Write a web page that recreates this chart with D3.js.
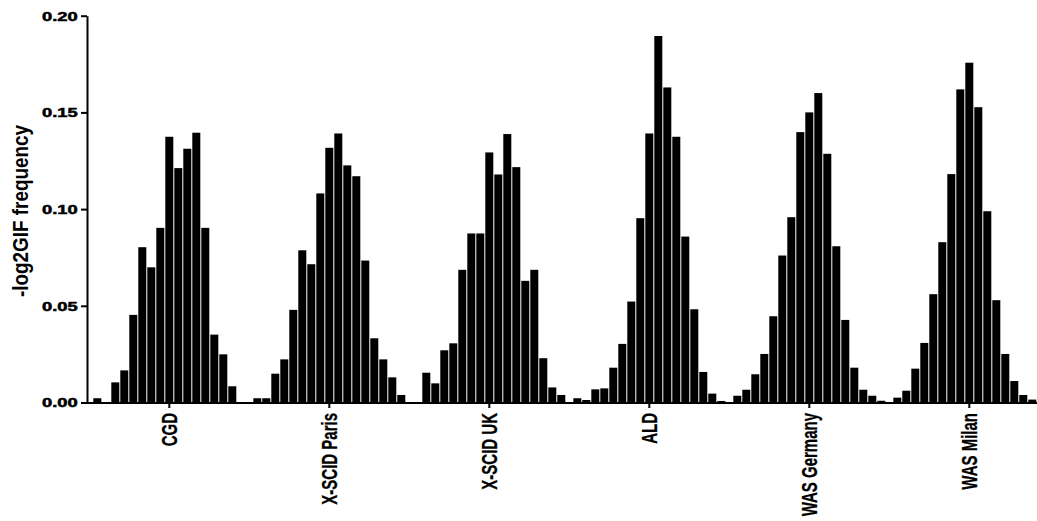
<!DOCTYPE html>
<html>
<head>
<meta charset="utf-8">
<script src="https://cdn.jsdelivr.net/npm/d3@7"></script>
<style>
  body { margin: 0; background: #fff; }
  svg { display: block; font-family: "Liberation Sans", Arial, sans-serif; }
</style>
</head>
<body>
<div id="chart"></div>
<script>
// data, one array per sample
const categories = ['CGD', 'X-SCID Paris', 'X-SCID UK', 'ALD', 'WAS Germany', 'WAS Milan'];
const cgd        = [0.0022, 0, 0.0104, 0.0166, 0.0453, 0.0803, 0.0699, 0.0903, 0.1374, 0.1212, 0.1312, 0.1395, 0.0903, 0.0351, 0.0249, 0.0084, 0];
const xscidParis = [0.0022, 0.0022, 0.0149, 0.0223, 0.0479, 0.0787, 0.0715, 0.1081, 0.1317, 0.1391, 0.1226, 0.1170, 0.0734, 0.0332, 0.0223, 0.0130, 0.0039];
const xscidUk    = [0, 0.0154, 0.0099, 0.0270, 0.0306, 0.0686, 0.0874, 0.0874, 0.1293, 0.1179, 0.1388, 0.1217, 0.0629, 0.0686, 0.0229, 0.0078, 0.0039];
const ald        = [0.0022, 0.0013, 0.0068, 0.0073, 0.0180, 0.0303, 0.0522, 0.0953, 0.1391, 0.1895, 0.1629, 0.1374, 0.0858, 0.0482, 0.0158, 0.0046, 0.0008];
const wasGermany = [0.0035, 0.0066, 0.0146, 0.0251, 0.0446, 0.0760, 0.0958, 0.1398, 0.1500, 0.1600, 0.1286, 0.0808, 0.0427, 0.0180, 0.0066, 0.0035, 0.0009];
const wasMilan   = [0.0025, 0.0061, 0.0175, 0.0308, 0.0560, 0.0829, 0.1181, 0.1619, 0.1757, 0.1527, 0.0989, 0.0529, 0.0251, 0.0111, 0.0039, 0.0015, 0.0008];
const yTicks = [0, 0.05, 0.10, 0.15, 0.20];
const yLabel = '-log2GIF frequency';

const series = [cgd, xscidParis, xscidUk, ald, wasGermany, wasMilan];

const width = 1037, height = 521;

const svg = d3.select('#chart').append('svg')
    .attr('width', width)
    .attr('height', height);

const y = d3.scaleLinear().domain([0, 0.2]).range([402.5, 15.7]);

// one band per sample, 17 bins inside each band
const x0 = d3.scaleBand()
    .domain(categories)
    .range([92.8, 1045.8])
    .paddingInner(7 / 160)
    .paddingOuter(0);

const bins = d3.range(cgd.length);
const x1 = d3.scaleBand()
    .domain(bins)
    .range([0, x0.bandwidth()])
    .paddingInner(1 / 9)
    .paddingOuter(1 / 18);

// bars
svg.append('g')
    .selectAll('g')
    .data(categories)
    .join('g')
    .attr('transform', d => `translate(${x0(d)},0)`)
    .selectAll('rect')
    .data((d, i) => series[i].map((v, k) => ({ k, v })).filter(b => b.v > 0))
    .join('rect')
    .attr('x', d => x1(d.k))
    .attr('width', x1.bandwidth())
    .attr('y', d => y(d.v))
    .attr('height', d => y(0) - y(d.v))
    .attr('fill', '#000');

// y axis
const yAxis = svg.append('g')
    .attr('transform', 'translate(87,0)')
    .call(d3.axisLeft(y).tickValues(yTicks).tickFormat(d3.format('.2f')).tickSize(6).tickSizeOuter(0));

yAxis.select('.domain').attr('stroke-width', 2);
yAxis.selectAll('.tick line').attr('stroke-width', 2);
yAxis.selectAll('.tick text')
    .attr('x', 0)
    .attr('dy', '0.36em')
    .attr('transform', 'translate(-9.3,0) scale(1.48,1)')
    .attr('text-anchor', 'end')
    .attr('font-family', '"Liberation Sans", Arial, sans-serif')
    .attr('font-size', 12.4)
    .attr('font-weight', 'bold')
    .attr('fill', '#000')
    .attr('stroke', '#000')
    .attr('stroke-width', 0.5);

// x axis, ticks sit under the middle bin of each sample
const tickPos = d3.scaleOrdinal()
    .domain(categories)
    .range(categories.map(c => x0(c) + x1(8) + x1.bandwidth() / 2 - 0.5));

const xAxis = svg.append('g')
    .attr('transform', `translate(0,${y(0)})`)
    .call(d3.axisBottom(tickPos).tickSize(5.5).tickSizeOuter(0));

xAxis.select('.domain')
    .attr('d', `M86,0.5H${x0.range()[1]}`)
    .attr('stroke-width', 2);
xAxis.selectAll('.tick line').attr('stroke-width', 2);
xAxis.selectAll('.tick text')
    .attr('x', 0)
    .attr('y', 0)
    .attr('dy', '0.36em')
    .attr('transform', 'translate(0,10.5) scale(1.48,1) rotate(-90)')
    .attr('text-anchor', 'end')
    .attr('font-family', '"Liberation Sans", Arial, sans-serif')
    .attr('font-size', 15)
    .attr('font-weight', 'bold')
    .attr('fill', '#000')
    .attr('stroke', '#000')
    .attr('stroke-width', 0.2);

// y title
svg.append('text')
    .attr('transform', 'translate(22.5,211) scale(1.2,1) rotate(-90)')
    .attr('text-anchor', 'middle')
    .attr('dy', '0.26em')
    .attr('font-size', 18.9)
    .attr('font-weight', 'bold')
    .attr('fill', '#000')
    .text(yLabel);
</script>
</body>
</html>
